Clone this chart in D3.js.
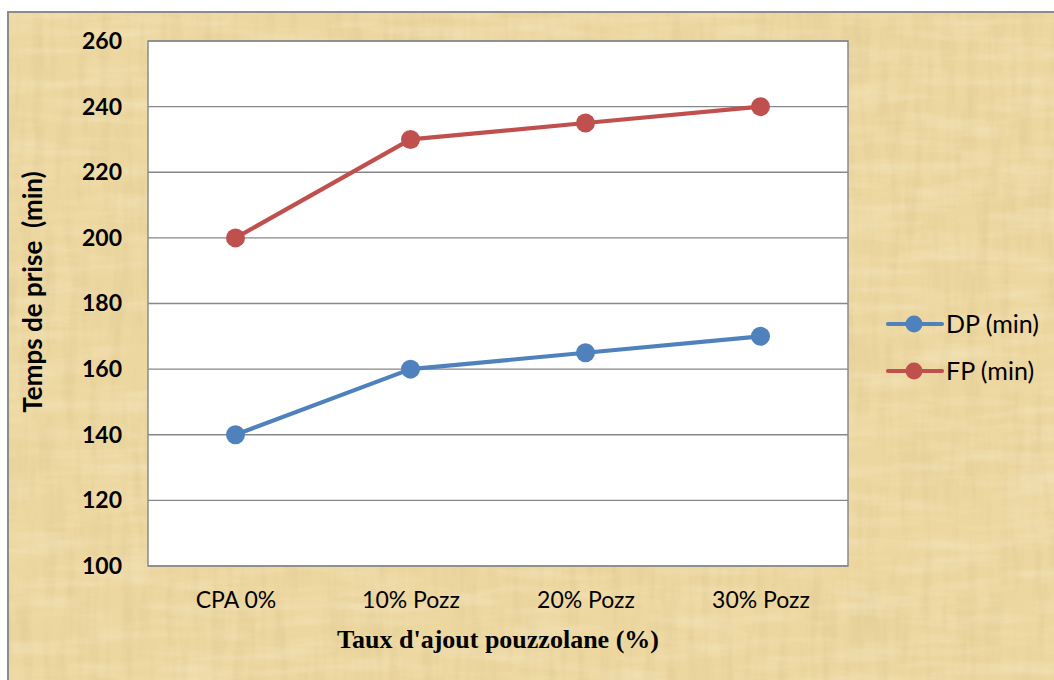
<!DOCTYPE html>
<html>
<head>
<meta charset="utf-8">
<script src="https://cdn.jsdelivr.net/npm/d3@7"></script>
<style>
  html, body { margin: 0; padding: 0; background: #fff; }
  svg { display: block; }
</style>
</head>
<body>
<svg id="chart" width="1054" height="680"></svg>
<script>
// Setting time of cement with pozzolana additions
const categories = ["CPA 0%", "10% Pozz", "20% Pozz", "30% Pozz"];
const dpValues = [140, 160, 165, 170];
const fpValues = [200, 230, 235, 240];
const yTicks = [100, 120, 140, 160, 180, 200, 220, 240, 260];
const seriesNames = ["DP (min)", "FP (min)"];
const seriesColors = ["#4F81BD", "#C0504D"];

const svg = d3.select("#chart");
const W = 1054, H = 680;
const plot = { left: 148, right: 848, top: 41, bottom: 566 };
const sans = "Lato, 'Open Sans', sans-serif";

// papyrus-like textured background
const defs = svg.append("defs");
const f = defs.append("filter").attr("id", "papyrus")
  .attr("x", 0).attr("y", 0).attr("width", "100%").attr("height", "100%");
f.append("feTurbulence").attr("type", "fractalNoise")
  .attr("baseFrequency", "0.09 0.012").attr("numOctaves", 3).attr("seed", 4).attr("result", "n1");
f.append("feColorMatrix").attr("in", "n1").attr("type", "matrix")
  .attr("values", "0 0 0 0 0.55  0 0 0 0 0.42  0 0 0 0 0.18  1.1 0 0 0 -0.45");
const f2 = defs.append("filter").attr("id", "papyrus2")
  .attr("x", 0).attr("y", 0).attr("width", "100%").attr("height", "100%");
f2.append("feTurbulence").attr("type", "fractalNoise")
  .attr("baseFrequency", "0.012 0.08").attr("numOctaves", 3).attr("seed", 9).attr("result", "n2");
f2.append("feColorMatrix").attr("in", "n2").attr("type", "matrix")
  .attr("values", "0 0 0 0 1  0 0 0 0 0.97  0 0 0 0 0.85  1.1 0 0 0 -0.45");

const bg = svg.append("g");
bg.append("rect").attr("x", 8).attr("y", 12).attr("width", W).attr("height", H)
  .attr("fill", "#EDD7A0");
bg.append("rect").attr("x", 8).attr("y", 12).attr("width", W).attr("height", H)
  .attr("filter", "url(#papyrus)").attr("opacity", 0.35);
bg.append("rect").attr("x", 8).attr("y", 12).attr("width", W).attr("height", H)
  .attr("filter", "url(#papyrus2)").attr("opacity", 0.45);
bg.append("rect").attr("x", 8).attr("y", 12).attr("width", W + 10).attr("height", H + 10)
  .attr("fill", "none").attr("stroke", "#8c8c8c").attr("stroke-width", 2);

// scales
const x = d3.scalePoint().domain(categories).range([plot.left, plot.right]).padding(0.5);
const y = d3.scaleLinear().domain([100, 260]).range([plot.bottom, plot.top]);

// plot area
svg.append("rect").attr("x", plot.left).attr("y", plot.top)
  .attr("width", plot.right - plot.left).attr("height", plot.bottom - plot.top)
  .attr("fill", "#fff");

// gridlines
svg.append("g").selectAll("line").data(yTicks).join("line")
  .attr("x1", plot.left).attr("x2", plot.right)
  .attr("y1", d => y(d)).attr("y2", d => y(d))
  .attr("stroke", "#878787").attr("stroke-width", 1.3);

svg.append("rect").attr("x", plot.left).attr("y", plot.top)
  .attr("width", plot.right - plot.left).attr("height", plot.bottom - plot.top)
  .attr("fill", "none").attr("stroke", "#8a8a8a").attr("stroke-width", 1.5);

// y axis labels
const yAxis = svg.append("g").attr("transform", `translate(${plot.left},0)`)
  .call(d3.axisLeft(y).tickValues(yTicks).tickSize(0).tickPadding(26));
yAxis.select(".domain").remove();
yAxis.selectAll("text")
  .attr("font-family", sans)
  .attr("font-weight", "bold").attr("font-size", 23).attr("fill", "#000");

// x axis labels
const xAxis = svg.append("g").attr("transform", `translate(0,${plot.bottom})`)
  .call(d3.axisBottom(x).tickSize(0).tickPadding(26));
xAxis.select(".domain").remove();
xAxis.selectAll("text")
  .attr("font-family", sans)
  .attr("font-size", 23).attr("fill", "#000");

// axis titles
svg.append("text").attr("x", (plot.left + plot.right) / 2).attr("y", 648)
  .attr("text-anchor", "middle")
  .attr("font-family", "'Liberation Serif', 'Times New Roman', serif")
  .attr("font-weight", "bold").attr("font-size", 26).attr("fill", "#000")
  .text("Taux d'ajout pouzzolane (%)");

svg.append("text")
  .attr("transform", "translate(42,292) rotate(-90)")
  .attr("text-anchor", "middle")
  .attr("font-family", sans)
  .attr("font-weight", "bold").attr("font-size", 26).attr("fill", "#000")
  .attr("xml:space", "preserve")
  .text("Temps de prise  (min)");

// series
const series = [dpValues, fpValues];
const line = d3.line().x((d, i) => x(categories[i])).y(d => y(d));
series.forEach((vals, s) => {
  const g = svg.append("g");
  g.append("path").datum(vals).attr("d", line)
    .attr("fill", "none").attr("stroke", seriesColors[s]).attr("stroke-width", 4.2)
    .attr("stroke-linejoin", "round");
  g.selectAll("circle").data(vals).join("circle")
    .attr("cx", (d, i) => x(categories[i])).attr("cy", d => y(d))
    .attr("r", 9.5).attr("fill", seriesColors[s]);
});

// legend
const legend = svg.append("g");
const legendY = [324, 371];
seriesNames.forEach((name, s) => {
  legend.append("line").attr("x1", 888).attr("x2", 942)
    .attr("y1", legendY[s]).attr("y2", legendY[s])
    .attr("stroke", seriesColors[s]).attr("stroke-width", 4.2).attr("stroke-linecap", "round");
  legend.append("circle").attr("cx", 914).attr("cy", legendY[s]).attr("r", 8.5)
    .attr("fill", seriesColors[s]);
  legend.append("text").attr("x", 946).attr("y", legendY[s]).attr("dy", "0.35em")
    .attr("font-family", sans)
    .attr("font-size", 25).attr("fill", "#000").text(name);
});
</script>
</body>
</html>
